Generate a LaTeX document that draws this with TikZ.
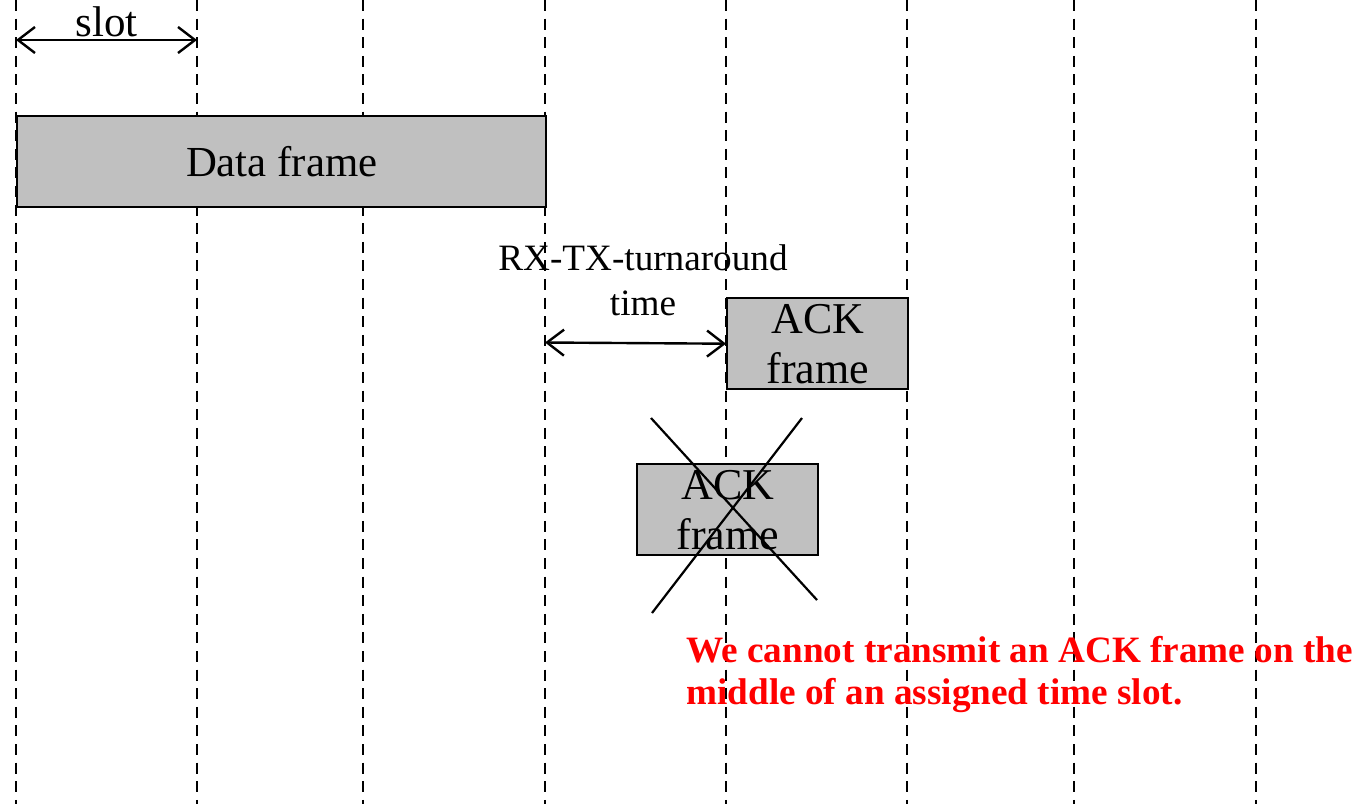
\documentclass[tikz,border=0pt]{standalone}
\usepackage{fontspec}
\setmainfont{Liberation Serif}
\usetikzlibrary{arrows.meta,positioning}
\definecolor{frameink}{HTML}{000000}
\definecolor{framefill}{HTML}{C0C0C0}
\definecolor{warnred}{HTML}{FF0000}
\tikzset{
  slotline/.style={draw=black,line width=1.3pt,dash pattern=on 5.5pt off 3.8pt},
  frame/.style={rectangle,draw=frameink,fill=framefill,line width=1.2pt,
    inner sep=0pt,align=center,anchor=north west,minimum height=45.5pt},
  span/.style={draw=black,line width=1.2pt,
    {Straight Barb[length=8.5pt,width=13pt]}-{Straight Barb[length=8.5pt,width=13pt]}},
  cross/.style={draw=black,line width=1.1pt},
  note/.style={inner sep=0pt,font=\fontsize{18.6}{22.5}\selectfont,align=center},
  warn/.style={inner sep=0pt,text=warnred,font=\bfseries\fontsize{18.6}{21}\selectfont,
    align=left,anchor=north west},
}
\begin{document}
\begin{tikzpicture}[x=0.5pt,y=-0.5pt]
  \path[use as bounding box] (0,0) rectangle (1354,804);
  % slot boundaries behind the frames
  \foreach \n/\x in {0/16,1/197,2/363,3/545,4/726,5/907,6/1074,7/1256} {
    \coordinate (top\n) at (\x,0);
    \coordinate (bot\n) at (\x,804);
    \draw[slotline] (top\n) -- (bot\n);
  }
  \node[frame,minimum width=264.5pt,font=\fontsize{21.4}{24}\selectfont] (data) at (16,115) {Data frame};
  \node[frame,minimum width=90.5pt,font=\fontsize{22}{25}\selectfont] (ack) at (726,297) {ACK\\frame};
  \node[frame,minimum width=90.5pt,font=\fontsize{22}{25}\selectfont] (badack) at (636,463) {ACK\\frame};
  \coordinate (slotL) at (16,40);
  \coordinate (slotR) at (197,40);
  \draw[span] (slotL) -- node[note,above=1pt,font=\fontsize{21.5}{24}\selectfont] (slot) {slot} (slotR);
  \coordinate (turnL) at (545,342.5);
  \draw[span] (turnL) -- (ack.west);
  \node[note] (turn) at (643,280) {RX-TX-turnaround\\time};
  \coordinate (xa) at (651,418);
  \coordinate (xb) at (817,600);
  \coordinate (xc) at (802,418);
  \coordinate (xd) at (652,613);
  \draw[cross] (xa) -- (xb);
  \draw[cross] (xc) -- (xd);
  \node[warn] (warning) at (686,636) {We cannot transmit an ACK frame on the\\middle of an assigned time slot.};
\end{tikzpicture}
\end{document}
